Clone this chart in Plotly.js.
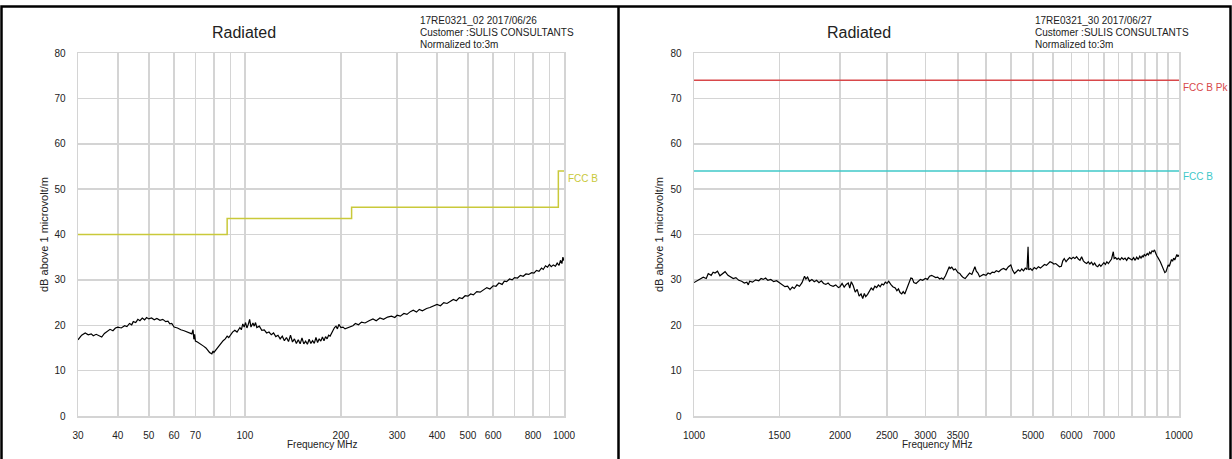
<!DOCTYPE html>
<html>
<head>
<meta charset="utf-8">
<script src="https://cdn.plot.ly/plotly-3.0.1.min.js"></script>
<style>html,body{margin:0;padding:0;background:#fff;}#chart{width:1232px;height:459px;}</style>
</head>
<body>
<div id="chart"></div>
<script>
// ---------- Left panel data (30 - 1000 MHz) ----------
const leftFreq = [30,30.8,31.6,32.3,33.0,33.5,34.2,35.0,35.6,36.3,37.0,37.8,38.6,39.3,40,41,42,42.7,43.5,44.2,44.7,45.5,46.2,46.9,47.7,48.5,49.2,50,51,52,53,54.2,55.3,56.5,57.4,58.2,59,60,61.5,63,64.5,65.8,67,68.2,68.8,69.2,69.6,70,71,72.2,73.2,74.2,75.5,76.6,77.5,78.8,79.5,80,81.2,82.5,83.8,85.5,86.8,88,89,90,91.5,93,94.5,96.5,97.5,98.5,99.5,100.5,101.5,102.5,103.5,104.5,106,107,108,109,111,113,115,117,119,121,123,125,127,129,131,133,135,137,139,141,143,145,147,149,151,153,155,157,159,161,163,165,167,169,171,173,175,177,179,181,183,185,187,189,191,193,195,197,200,203,206,210,214,218,222,227,232,238,245,252,258,265,272,280,288,295,300,307,315,322,330,337,345,352,360,371,380,390,400,410,420,430,439,450,460,470,480,490,500,510,520,533,546,560,573,586,600,612,625,640,650,661,675,688,700,715,730,745,760,775,792,805,820,835,850,861,875,888,900,912,926,940,952,965,975,985,992,1000];
const leftLevel = [16.8,17.8,18.3,17.9,18.1,17.7,18.0,17.6,17.4,18.2,18.6,19.1,18.8,19.4,19.6,19.4,19.9,19.7,20.4,20.1,20.8,20.6,21.3,21.0,21.6,21.2,21.7,21.4,21.6,21.2,21.5,21.1,21.3,20.8,20.9,20.3,20.4,19.6,19.4,19.0,18.8,18.5,18.3,18.1,19.0,16.9,18.0,16.5,16.3,16.0,15.7,15.4,15.0,14.4,14.0,13.7,14.3,14.0,14.6,15.2,15.9,16.6,17.0,17.6,17.3,17.8,18.5,18.9,18.5,19.5,19.0,20.3,19.6,20.6,19.4,20.2,21.3,19.6,20.5,19.8,20.6,19.5,19.8,18.9,19.0,18.3,18.5,17.9,18.3,17.5,17.8,17.0,17.6,16.6,17.3,16.4,17.8,16.3,17.0,16.0,16.8,15.9,17.2,15.9,16.5,15.8,16.9,16.0,16.6,16.0,17.3,16.2,17.0,16.5,17.4,16.6,17.5,17.0,17.8,17.6,18.4,18.9,19.5,19.8,19.2,20.2,19.5,19.6,19.2,19.5,19.7,19.9,20.4,20.1,20.7,20.5,21.0,21.4,21.0,21.6,21.3,21.8,22.0,21.7,22.2,22.0,22.6,22.4,23.0,23.3,22.9,23.5,23.2,23.7,23.9,24.3,24.6,24.3,25.0,24.8,25.3,25.7,25.4,26.1,25.9,26.5,26.4,26.9,26.7,27.4,27.3,27.9,28.3,28.0,28.7,28.6,29.3,29.0,29.7,29.6,30.2,30.0,30.5,30.4,31.0,30.8,31.3,31.2,31.6,31.5,32.1,31.9,32.6,32.3,33.1,32.8,33.4,32.9,33.3,33.0,33.7,33.2,34.3,33.6,35.0,34.2];
const leftLimitFreq = [30,88,216,960,1000];
const leftLimitLevel = [40,43.5,46,54,54];
const leftTickVals = [30,40,50,60,70,80,90,100,200,300,400,500,600,700,800,900,1000];
const leftTickText = ["30","40","50","60","70","","","100","200","300","400","500","600","","800","","1000"];

// ---------- Right panel data (1 - 10 GHz) ----------
const rightFreq = [1000,1015,1029,1045,1060,1070,1085,1095,1105,1118,1131,1145,1159,1175,1190,1205,1220,1237,1254,1270,1285,1294,1302,1320,1340,1360,1375,1389,1405,1420,1440,1460,1480,1500,1520,1540,1560,1578,1595,1610,1630,1650,1670,1690,1701,1715,1730,1750,1770,1790,1810,1830,1850,1870,1890,1910,1936,1960,1985,2000,2020,2040,2060,2080,2095,2110,2130,2150,2170,2190,2210,2228,2245,2260,2280,2300,2320,2340,2360,2380,2400,2420,2440,2460,2480,2500,2520,2545,2570,2600,2620,2640,2660,2681,2700,2720,2740,2760,2780,2800,2819,2840,2870,2900,2930,2960,3000,3030,3060,3090,3120,3150,3180,3210,3240,3266,3300,3330,3360,3373,3400,3430,3460,3500,3532,3560,3590,3623,3660,3700,3740,3770,3795,3820,3850,3880,3910,3950,4000,4040,4080,4120,4160,4200,4250,4300,4348,4400,4450,4500,4540,4580,4620,4660,4700,4740,4780,4820,4860,4884,4900,4940,4980,5030,5080,5130,5180,5230,5280,5330,5380,5420,5470,5520,5570,5620,5670,5720,5760,5800,5850,5900,5950,6000,6050,6100,6150,6200,6250,6298,6350,6400,6450,6500,6550,6600,6650,6700,6750,6800,6850,6900,6950,7000,7050,7100,7150,7200,7260,7320,7350,7400,7450,7500,7560,7620,7680,7740,7800,7860,7920,8000,8060,8120,8180,8240,8300,8350,8400,8433,8480,8540,8600,8650,8700,8750,8800,8850,8900,8923,8960,9000,9050,9100,9150,9200,9250,9300,9350,9401,9450,9500,9550,9600,9650,9700,9750,9800,9850,9900,9950,10000];
const rightLevel = [29.4,29.8,30.1,30.6,30.3,31.4,31.0,31.7,31.5,31.9,30.9,31.3,31.8,31.0,30.7,30.3,30.5,29.9,29.7,29.3,29.5,28.9,29.7,29.5,30.0,29.8,30.3,30.1,30.4,29.9,30.1,29.6,29.8,29.3,29.0,28.5,28.6,27.8,28.4,28.1,28.9,28.6,29.4,30.8,30.2,30.6,29.7,30.1,29.6,29.9,29.4,29.8,29.2,29.0,29.3,28.8,28.6,28.9,28.3,28.5,29.2,28.4,29.0,29.3,28.2,29.6,28.7,27.3,27.9,26.4,26.9,25.9,27.0,26.3,26.8,27.4,28.2,27.8,28.6,28.3,28.9,28.5,29.1,28.9,29.5,29.2,29.7,29.0,28.5,28.2,27.6,28.0,27.2,26.9,27.4,26.9,27.8,28.6,29.6,30.4,30.3,29.4,29.2,29.7,30.1,29.9,30.3,30.1,30.8,31.0,30.7,30.5,30.6,30.2,30.4,30.1,30.9,31.8,32.9,32.5,32.8,32.2,32.4,31.6,31.4,30.9,30.5,30.3,30.8,31.5,31.2,32.3,32.9,31.9,31.5,30.7,31.0,31.2,31.0,31.5,31.3,31.7,31.6,32.0,31.8,32.3,32.5,32.2,32.9,33.3,32.1,31.4,31.8,32.2,31.9,32.4,32.0,32.6,32.3,37.3,32.2,32.5,32.1,32.7,32.4,32.9,32.6,33.1,33.4,33.2,33.7,34.0,33.8,33.5,33.6,33.3,32.9,33.0,34.2,34.7,34.0,34.5,34.9,34.6,35.0,34.7,35.1,34.6,34.3,35.1,34.2,33.8,33.6,34.0,33.5,33.9,33.3,33.7,33.1,32.9,33.4,33.0,33.5,33.8,33.4,34.0,33.6,34.2,34.6,36.2,34.7,34.9,34.5,34.8,34.4,34.9,34.5,34.8,34.3,34.9,34.6,34.4,34.9,34.3,35.0,34.5,35.2,34.8,35.3,35.0,35.6,35.3,35.8,35.5,36.1,35.8,36.4,36.2,36.6,36.2,35.7,35.3,34.9,34.5,34.0,33.4,32.8,32.3,31.6,31.8,32.5,33.3,33.0,33.8,34.5,34.1,34.8,34.4,35.2,35.6,35.1,35.5];
const rightLimitFreq = [1000,10000];
const rightPkLevel = [74,74];
const rightAvLevel = [54,54];
const rightTickVals = [1000,1500,2000,2500,3000,3500,4000,4500,5000,5500,6000,6500,7000,7500,8000,8500,9000,9500,10000];
const rightTickText = ["1000","1500","2000","2500","3000","3500","","","5000","","6000","","7000","","","","","","10000"];

const yTickVals = [0,10,20,30,40,50,60,70,80];

// ---------- texts ----------
const panelTitle = "Radiated";
const leftHeader = ["17RE0321_02 2017/06/26","Customer :SULIS CONSULTANTS","Normalized to:3m"];
const rightHeader = ["17RE0321_30 2017/06/27","Customer :SULIS CONSULTANTS","Normalized to:3m"];
const xTitle = "Frequency MHz";
const yTitle = "dB above 1 microvolt/m";

// ---------- layout helpers ----------
const W = 1232, H = 459;
const px = x => x / W;
const py = y => 1 - y / H;
const FONT = "Liberation Sans, Arial, sans-serif";
const TXT = "#222";

const traces = [
  {x: leftLimitFreq, y: leftLimitLevel, xaxis: 'x', yaxis: 'y', mode: 'lines', line: {color: '#c9c93a', width: 1.5, shape: 'hv'}, hoverinfo: 'skip'},
  {x: leftFreq, y: leftLevel, xaxis: 'x', yaxis: 'y', mode: 'lines', line: {color: '#000', width: 1.2}},
  {x: rightLimitFreq, y: rightPkLevel, xaxis: 'x2', yaxis: 'y2', mode: 'lines', line: {color: '#d8484a', width: 1.5}},
  {x: rightLimitFreq, y: rightAvLevel, xaxis: 'x2', yaxis: 'y2', mode: 'lines', line: {color: '#3fc9c9', width: 1.5}},
  {x: rightFreq, y: rightLevel, xaxis: 'x2', yaxis: 'y2', mode: 'lines', line: {color: '#000', width: 1.2}}
];

const gridC = '#d4d4d4';
function xAxis(domain, range, vals, text) {
  return {type: 'log', domain: domain, range: range, tickmode: 'array', tickvals: vals, ticktext: text,
    showgrid: true, gridcolor: gridC, gridwidth: 1.5, zeroline: false, showline: true, linecolor: gridC, linewidth: 1.5, mirror: true,
    ticks: '', ticklabelstandoff: 9, tickfont: {family: FONT, size: 10, color: TXT}, fixedrange: true};
}
function yAxis(domain, anchor) {
  return {domain: domain, range: [0, 80], anchor: anchor, tickmode: 'array', tickvals: yTickVals,
    showgrid: true, gridcolor: gridC, gridwidth: 1.5, zeroline: false, showline: true, linecolor: gridC, linewidth: 1.5, mirror: true,
    ticks: '', ticklabelstandoff: 9, tickfont: {family: FONT, size: 10, color: TXT}, fixedrange: true};
}

const yDom = [py(416), py(53)];
const annotations = [];
function panelTexts(offset, header) {
  annotations.push({xref: 'paper', yref: 'paper', x: px(244 + offset), y: py(32), text: panelTitle, showarrow: false,
    xanchor: 'center', yanchor: 'middle', font: {family: FONT, size: 16, color: TXT}});
  header.forEach((t, i) => annotations.push({xref: 'paper', yref: 'paper', x: px(418 + offset), y: py(20 + i * 12.5), text: t, showarrow: false,
    xanchor: 'left', yanchor: 'middle', font: {family: FONT, size: 10, color: TXT}}));
  annotations.push({xref: 'paper', yref: 'paper', x: px(322 + offset), y: py(444), text: xTitle, showarrow: false,
    xanchor: 'center', yanchor: 'middle', font: {family: FONT, size: 10, color: TXT}});
  annotations.push({xref: 'paper', yref: 'paper', x: px(44 + offset), y: py(235), text: yTitle, showarrow: false, textangle: -90,
    xanchor: 'center', yanchor: 'middle', font: {family: FONT, size: 11, color: TXT}});
}
panelTexts(0, leftHeader);
panelTexts(615, rightHeader);
annotations.push({xref: 'paper', yref: 'paper', x: px(566), y: py(178), text: 'FCC B', showarrow: false, xanchor: 'left', yanchor: 'middle', font: {family: FONT, size: 10, color: '#c9c93a'}});
annotations.push({xref: 'paper', yref: 'paper', x: px(1181), y: py(87), text: 'FCC B Pk', showarrow: false, xanchor: 'left', yanchor: 'middle', font: {family: FONT, size: 10, color: '#d8484a'}});
annotations.push({xref: 'paper', yref: 'paper', x: px(1181), y: py(177), text: 'FCC B', showarrow: false, xanchor: 'left', yanchor: 'middle', font: {family: FONT, size: 10, color: '#3fc9c9'}});

const shapes = [
  {type: 'rect', xref: 'paper', yref: 'paper', x0: px(1.5), x1: px(1230.5), y0: py(470), y1: py(6.5), line: {color: '#000', width: 2.5}},
  {type: 'line', xref: 'paper', yref: 'paper', x0: px(618.5), x1: px(618.5), y0: py(470), y1: py(6.5), line: {color: '#000', width: 2.5}}
];

const layout = {
  width: W, height: H, margin: {l: 0, r: 0, t: 0, b: 0}, showlegend: false,
  paper_bgcolor: '#fff', plot_bgcolor: '#fff',
  xaxis: xAxis([px(78), px(564)], [Math.log10(30), 3], leftTickVals, leftTickText),
  yaxis: yAxis(yDom, 'x'),
  xaxis2: Object.assign(xAxis([px(694), px(1179)], [3, 4], rightTickVals, rightTickText), {anchor: 'y2'}),
  yaxis2: yAxis(yDom, 'x2'),
  annotations: annotations, shapes: shapes
};
layout.xaxis.anchor = 'y';

Plotly.newPlot('chart', traces, layout, {staticPlot: true, displayModeBar: false});
</script>
</body>
</html>
